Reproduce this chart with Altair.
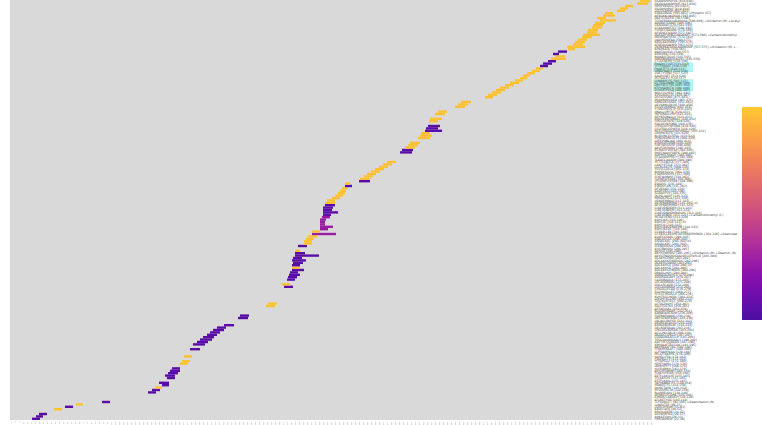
import altair as alt
import pandas as pd

# Protein sequence used to spell out each peptide on the row axis
protein = (
    "MKWVTFISLLFLFSSAYSRGVFRRDAHKSEVAHRFKDLGEENFKALVLIAFAQYLQQCPFEDHVKLVNEVTEFAKTCVADES"
    "AENCDKSLHTLFGDKLCTVATLRETYGEMADCCAKQEPERNECFLQHKDDNPNLPRLVRPEVDVMCTAFHDNEETFLKKYLY"
    "EIARRHPYFYAPELLFFAKRYKAAFTECCQAADKAACLLPKLDELRDEGKASSAKQRLKCASLQKFGERAFKAWAVARLSQR"
    "FPKAEFAEVSKLVTDLTKVHTECCHGDLLECADDRADLAKYICENQDSISSKLKECCEKPLLEKSHCIAEVENDEMPADLPS"
    "LAADFVESKDVCKNYAEAKDVFLGMFLYEYARRHPDYSVVLLLRLAKTYETTLEKCCAAADPHECYAKVFDEFKPLVEEPQN"
    "LIKQNCELFEQLGEYKFQNALLVRYTKKVPQVSTPTLVEVSRNLGKVGSKCCKHPEAKRMPCAEDYLSVVLNQLCVLHEKTP"
    "VSDRVTKCCTESLVNRRPCFSALEVDETYVPKEFNAETFTFHADICTLSEKERQIKKQTALVELVKHKPKATKEQLKAVMDD"
    "FAAFVEKCCKADDKETCFAEEGKKLVAASQAALGLGSAWSHPQFEKGGGSGGGSGGSAWSHPQFEKGSHHHHHHHHHH"
)

# Peptides, listed from the bottom row to the top row
starts = [
    22, 26, 29, 34, 44, 55, 66, 92, 102, 110, 120, 138, 142, 145, 152, 149, 155, 157, 155, 158,
    160, 162, 166, 170, 172, 173, 174, 176, 178, 180, 182, 183, 187, 190, 193, 197, 200, 203, 207, 214,
    218, 222, 228, 230, 236, 242, 250, 256, 258, 260, 262, 264, 266, 268, 270, 274, 272, 275, 277, 278,
    279, 280, 282, 282, 282, 283, 282, 283, 285, 285, 285, 286, 288, 294, 294, 296, 298, 302, 302, 310,
    310, 310, 310, 310, 312, 313, 313, 313, 313, 315, 315, 317, 322, 325, 328, 330, 332, 335, 335, 349,
    350, 354, 357, 361, 365, 369, 373, 377, 380, 384, 388, 390, 392, 395, 398, 400, 404, 408, 410, 411,
    415, 416, 418, 420, 419, 420, 423, 425, 428, 435, 445, 448, 451, 465, 475, 478, 482, 486, 490, 495,
    500, 505, 510, 513, 517, 522, 526, 530, 533, 538, 541, 545, 543, 548, 558, 557, 563, 565, 568, 572,
    573, 577, 578, 582, 583, 585, 590, 587, 593, 595, 607, 610, 615, 627, 630,
]
ends = [
    30, 33, 37, 42, 52, 63, 73, 100, 110, 120, 130, 146, 150, 152, 159, 159, 163, 165, 165, 168,
    170, 170, 174, 178, 180, 181, 182, 186, 188, 190, 192, 195, 198, 202, 204, 207, 210, 214, 216, 224,
    228, 232, 238, 239, 246, 252, 258, 265, 267, 270, 272, 274, 276, 277, 279, 283, 280, 284, 285, 287,
    290, 288, 294, 290, 290, 293, 296, 292, 309, 295, 290, 295, 297, 302, 302, 304, 307, 326, 310, 318,
    323, 315, 315, 316, 320, 321, 328, 322, 323, 325, 325, 325, 330, 333, 335, 336, 338, 342, 340, 360,
    360, 363, 366, 370, 374, 378, 382, 386, 390, 394, 398, 402, 403, 405, 408, 410, 414, 420, 422, 420,
    432, 428, 430, 430, 428, 432, 433, 435, 437, 445, 455, 458, 461, 475, 483, 487, 491, 495, 499, 504,
    509, 513, 517, 520, 525, 530, 533, 538, 542, 546, 556, 555, 549, 557, 565, 575, 573, 575, 577, 582,
    590, 587, 588, 592, 593, 595, 606, 596, 605, 603, 615, 618, 623, 638, 640,
]
# Relative deuterium uptake per peptide (None = not observed)
uptake = [
    0.04, 0.05, 0.04, None, 0.98, 0.05, 0.99, 0.05, None, None, None, 0.04, 0.05, 0.98, 0.04, 0.05, None, 0.05, 0.04, 0.05,
    0.05, 0.04, None, 0.98, 0.99, None, 0.98, None, None, 0.05, None, 0.04, 0.05, 0.04, 0.05, 0.04, 0.05, 0.04, 0.05, 0.05,
    None, None, 0.05, 0.04, None, None, None, 0.98, 0.99, None, None, None, None, None, None, 0.05, 0.97, None, 0.05, 0.04,
    0.05, 0.04, 0.05, 0.98, 0.04, 0.05, 0.04, 0.05, 0.06, 0.05, 0.97, None, 0.05, 0.98, 0.99, 0.98, 0.99, 0.28, 0.98, 0.27,
    0.28, 0.28, 0.27, 0.28, 0.26, 0.08, 0.06, 0.08, 0.07, 0.05, 0.98, 0.99, 0.98, 0.99, 0.98, 0.99, 0.98, 0.05, 0.98, 0.05,
    0.98, 0.99, 0.98, 0.99, 0.98, 0.99, 0.98, 0.99, None, None, None, 0.05, 0.04, 0.98, 0.99, 0.98, None, 0.99, 0.98, 0.97,
    0.05, 0.04, 0.05, None, 0.98, 0.99, None, 0.98, 0.99, None, 0.98, 0.99, 0.98, None, 0.98, 0.99, 0.98, 0.99, 0.98, 0.99,
    0.98, 0.99, 0.98, 0.99, 0.98, 0.99, 0.98, 0.05, 0.04, 0.05, 0.98, 0.99, 0.05, 0.04, 0.98, 0.99, 0.98, 0.99, 0.98, 0.99,
    0.98, 0.99, 0.98, 0.99, 0.98, 0.99, 0.98, 0.99, 0.98, 0.99, 0.98, 0.99, 0.98, 0.99, 1.0,
]
# Peptides carrying modifications (row index -> annotation)
modifications = {
    7: " +Deamidation (N)",
    69: " +Oxidation (M) +Deamid. (N)",
    77: " +Deamidation (N/Q) +Ox (M)",
    85: " +Carbamidomethyl (C)",
    155: " +Oxidation (M) +Deamid.",
    160: " +Carbamidomethyl (C)",
    166: " +Oxidation (M) +Acetyl",
    169: " +Phospho (ST)",
}
# Peptides flagged on the row axis
flagged_rows = [137, 138, 139, 140, 141, 145, 146, 147, 148]

labels = []
seen = set()
for i, (s, e) in enumerate(zip(starts, ends)):
    text = f"{protein[s - 1:e]} [{s}-{e}]" + modifications.get(i, "")
    charge = 2
    base = text
    while text in seen:
        charge += 1
        text = f"{base} z{charge}"
    seen.add(text)
    labels.append(text)

df = pd.DataFrame({
    "label": labels,
    "start": starts,
    "end": ends,
    "uptake": uptake,
    "flag": [i in flagged_rows for i in range(len(labels))],
})

row_order = labels[::-1]

y_enc = alt.Y(
    "label:N",
    scale=alt.Scale(domain=row_order, paddingInner=0, paddingOuter=0),
    axis=alt.Axis(
        orient="right", title="", ticks=False, domain=False, labelOverlap=False,
        labelFontSize=3, labelColor="#444444", labelPadding=2, labelLimit=86,
        labelFont="DejaVu Sans", zindex=1,
    ),
)

x_ticks = list(range(0, 644, 4))
x_enc = alt.X(
    "start:Q",
    scale=alt.Scale(domain=[0, 642], nice=False, zero=False),
    axis=alt.Axis(
        title="", values=x_ticks, labelAngle=270, labelFontSize=2.2, labelColor="#888888",
        labelOverlap=False, labelFlush=False, ticks=False, domain=False, grid=False, labelPadding=1,
    ),
)

flags = alt.Chart(df).transform_filter("datum.flag").mark_rect(color="#aef2f2").encode(
    y=y_enc,
    x=alt.value(643),
    x2=alt.value(683),
)

bars = alt.Chart(df).transform_filter("isValid(datum.uptake)").mark_bar(opacity=0.95).encode(
    y=y_enc,
    x=x_enc,
    x2="end:Q",
    color=alt.Color(
        "uptake:Q",
        scale=alt.Scale(scheme=alt.SchemeParams(name="plasma", extent=[0.1, 0.88]), domain=[0, 1]),
        legend=alt.Legend(
            title="", orient="none", legendX=732, legendY=107, direction="vertical",
            gradientLength=213, gradientThickness=20, padding=0,
            labelExpr="''", gradientStrokeWidth=0,
        ),
    ),
)

chart = alt.layer(flags, bars).properties(
    width=642,
    height=420,
    background="white",
    autosize=alt.AutoSizeParams(type="none"),
    padding={"left": 10, "top": 0, "right": 110, "bottom": 5},
).configure_view(fill="#d9d9d9", stroke=None)

chart.save("out.html", embed_options={"renderer": "svg", "actions": False})
